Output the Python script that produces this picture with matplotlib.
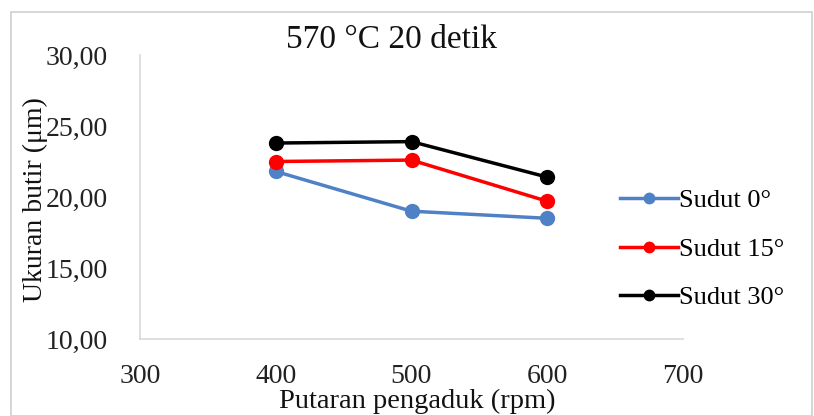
# ukuran butir vs putaran pengaduk, 570 C 20 detik

import matplotlib
matplotlib.use('Agg')
import matplotlib.pyplot as plt
from matplotlib.patches import Rectangle

plt.rcParams['font.family'] = ['Liberation Serif', 'DejaVu Serif']

# dados
putaran = [400, 500, 600]
sudut_0 = [21.8, 19.0, 18.5]
sudut_15 = [22.5, 22.6, 19.7]
sudut_30 = [23.8, 23.9, 21.4]
label_series = ['Sudut 0°', 'Sudut 15°', 'Sudut 30°']
xticks = [300, 400, 500, 600, 700]
yticks = [10, 15, 20, 25, 30]

fig = plt.figure(figsize=(8.14, 4.16), dpi=100)
ax = fig.add_axes([140/814, 77/416, 543/814, 284/416])

# borda da area do grafico
fig.patches.append(Rectangle((11/814, 0), 801/814, 404/416, transform=fig.transFigure,
                             fill=False, edgecolor='#d0d0d0', linewidth=1.2))

cores = ['#4f81c7', '#ff0000', '#000000']
series = [sudut_0, sudut_15, sudut_30]
for s, c, lab in zip(series, cores, label_series):
    ax.plot(putaran, s, color=c, linewidth=2.5, marker='o', markersize=10, label=lab)

ax.set_xlim(300, 700)
ax.set_ylim(10, 30)
ax.set_xticks(xticks)
ax.set_yticks(yticks)
ax.set_yticklabels([('%.2f' % v).replace('.', ',') for v in yticks])
ax.tick_params(axis='both', length=0, labelsize=20, colors='#222222')
ax.tick_params(axis='y', pad=23)
ax.tick_params(axis='x', pad=18)

for sp in ['top', 'right']:
    ax.spines[sp].set_visible(False)
for sp in ['left', 'bottom']:
    ax.spines[sp].set_color('#d9d9d9')
    ax.spines[sp].set_linewidth(1.2)

fig.text(391/814, 1 - 40/416, '570 \u00b0C 20 detik', fontsize=24, ha='center', va='center',
         color='#111111')
fig.text(417/814, 1 - 401/416, 'Putaran pengaduk (rpm)', fontsize=20.5, ha='center', va='center',
         color='#111111')
fig.text(35/814, 1 - 200/416, 'Ukuran butir (\u03bcm)', fontsize=20, ha='center', va='center',
         rotation=90, color='#111111')

leg = ax.legend(loc='center left', bbox_to_anchor=(596/814, 1 - 249/416),
                bbox_transform=fig.transFigure, frameon=False, fontsize=19,
                handlelength=2.2, handletextpad=0.05, labelspacing=0.95, markerscale=0.75)

fig.savefig('out.png', dpi=100)
